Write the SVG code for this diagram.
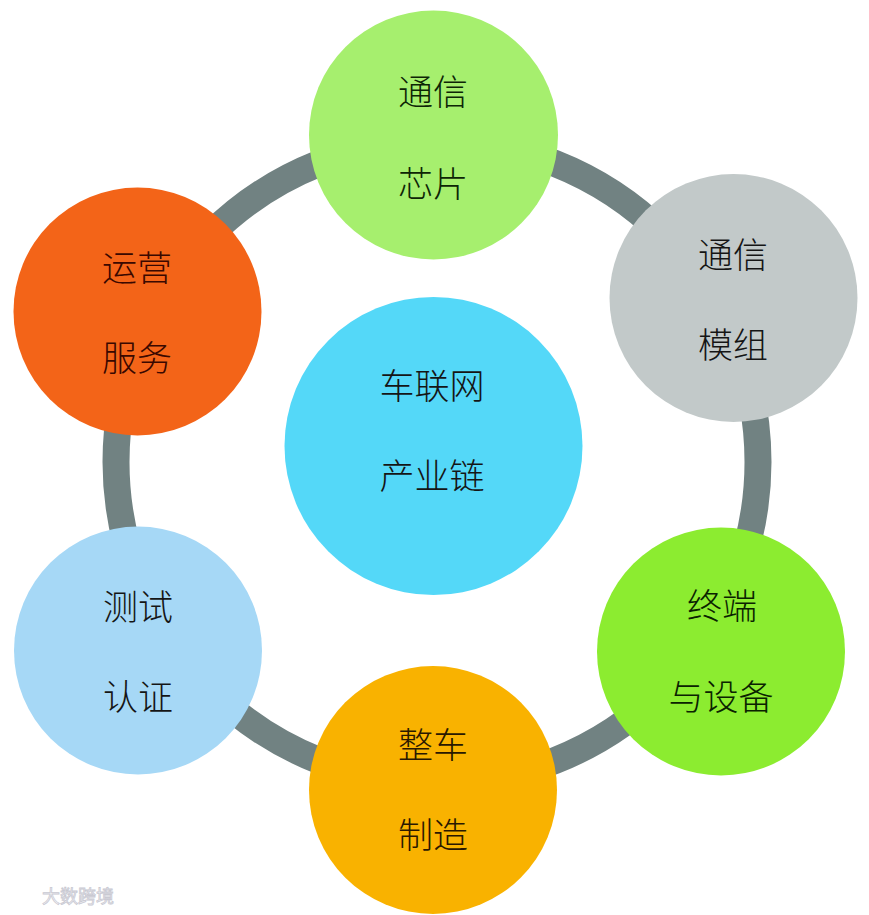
<svg xmlns="http://www.w3.org/2000/svg" width="869" height="915" viewBox="0 0 869 915">
<style>
.lbl{font-family:"Noto Sans CJK SC","Liberation Sans",sans-serif;font-size:35px;font-weight:300;text-anchor:middle;dominant-baseline:central;fill:#151515}
.wm{font-family:"Noto Sans CJK SC","Liberation Sans",sans-serif;font-size:18px;fill:#f4f4f8;stroke:#c9c9d2;stroke-width:0.8}
</style>
<rect width="869" height="915" fill="#ffffff"/>
<g id="connectors">
<circle cx="437" cy="462" r="321" fill="none" stroke="#718282" stroke-width="27"/>
</g>
<g id="center">
<circle cx="433.5" cy="446" r="149" fill="#54d8f8"/>
<text class="lbl" x="432" y="383">车联网</text>
<text class="lbl" x="432" y="473">产业链</text>
</g>
<g id="chip">
<circle cx="433.5" cy="135" r="124.5" fill="#a6ef6e"/>
<text class="lbl" x="433" y="89" style="fill:#0d2505">通信</text>
<text class="lbl" x="433" y="181" style="fill:#0d2505">芯片</text>
</g>
<g id="module">
<circle cx="733.5" cy="298" r="124" fill="#c2c9c9"/>
<text class="lbl" x="733" y="252">通信</text>
<text class="lbl" x="733" y="342">模组</text>
</g>
<g id="terminal">
<circle cx="721" cy="651.5" r="124" fill="#8cec30"/>
<text class="lbl" x="722" y="603" style="fill:#0a2200">终端</text>
<text class="lbl" x="721" y="694" style="fill:#0a2200">与设备</text>
</g>
<g id="vehicle">
<circle cx="433" cy="790" r="124" fill="#f9b200"/>
<text class="lbl" x="433" y="742" style="fill:#2a1800">整车</text>
<text class="lbl" x="433" y="832" style="fill:#2a1800">制造</text>
</g>
<g id="testing">
<circle cx="138" cy="650.5" r="124" fill="#a6d8f6"/>
<text class="lbl" x="138" y="604">测试</text>
<text class="lbl" x="138" y="694">认证</text>
</g>
<g id="operation">
<circle cx="137.5" cy="311.5" r="124" fill="#f36418"/>
<text class="lbl" x="137" y="265" style="fill:#3a0800">运营</text>
<text class="lbl" x="137" y="355" style="fill:#3a0800">服务</text>
</g>
<g id="watermark">
<text class="wm" x="42" y="903">大数跨境</text>
</g>
</svg>
